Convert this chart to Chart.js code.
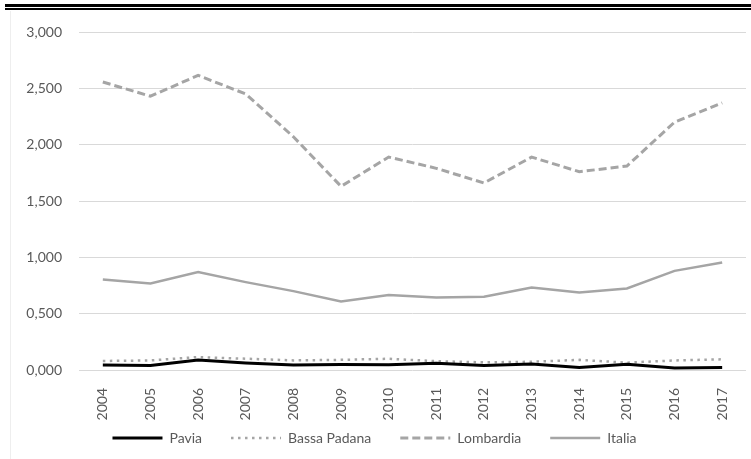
<!DOCTYPE html>
<html>
<head>
<meta charset="utf-8">
<script src="https://cdn.jsdelivr.net/npm/chart.js@4.4.0/dist/chart.umd.min.js"></script>
<style>
  html, body { margin: 0; padding: 0; background: #fff; }
  body { width: 751px; height: 459px; position: relative; overflow: hidden; }
  .rule-thick { position: absolute; left: 5px; right: 0; top: 4px; height: 3px; background: #000; }
  .rule-thin  { position: absolute; left: 5px; right: 0; top: 8px; height: 1.5px; background: #000; }
  .frame { position: absolute; left: 10px; top: 11px; bottom: 0; width: 1px; background: #eeeeee; }
  #wrap { position: absolute; left: 0; top: 12px; width: 751px; height: 447px; }
</style>
</head>
<body>
<div class="rule-thick"></div>
<div class="rule-thin"></div>
<div class="frame"></div>
<div id="wrap"><canvas id="chart"></canvas></div>
<script>
const anni = ['2004','2005','2006','2007','2008','2009','2010','2011','2012','2013','2014','2015','2016','2017'];
const pavia       = [0.044, 0.040, 0.089, 0.062, 0.044, 0.048, 0.047, 0.059, 0.041, 0.053, 0.022, 0.050, 0.018, 0.022];
const bassaPadana = [0.080, 0.085, 0.115, 0.100, 0.085, 0.090, 0.100, 0.078, 0.068, 0.073, 0.090, 0.065, 0.085, 0.095];
const lombardia   = [2.556, 2.430, 2.615, 2.450, 2.070, 1.630, 1.890, 1.790, 1.660, 1.890, 1.760, 1.810, 2.200, 2.370];
const italia      = [0.804, 0.768, 0.869, 0.780, 0.700, 0.609, 0.665, 0.644, 0.650, 0.733, 0.689, 0.724, 0.880, 0.955];

const grigio = '#a5a5a5';
const testo  = '#595959';
const font   = { family: 'Lato', size: 14 };

function serie(label, data, color, width, dash) {
  return {
    label, data,
    borderColor: color, backgroundColor: color,
    borderWidth: width, borderDash: dash,
    pointRadius: 0, pointHoverRadius: 0,
    tension: 0, fill: false
  };
}

// legenda con il tratto della serie (stile e tratteggio presi dal dataset)
function legendaLinee(chart) {
  return chart.data.datasets.map((ds, i) => ({
    text: ds.label,
    datasetIndex: i,
    fontColor: testo,
    fillStyle: ds.borderColor,
    strokeStyle: ds.borderColor,
    lineWidth: ds.borderWidth,
    lineDash: ds.borderDash,
    lineCap: 'butt',
    pointStyle: 'line',
    hidden: false
  }));
}

// le etichette ruotate dell'asse x sforano sotto: allargo solo l'area di clip
const clipAnni = {
  id: 'clipAnni',
  afterLayout(chart) { chart.scales.x.bottom += 30; }
};

new Chart(document.getElementById('chart'), {
  type: 'line',
  data: {
    labels: anni,
    datasets: [
      serie('Pavia', pavia, '#000000', 3, []),
      serie('Bassa Padana', bassaPadana, grigio, 2.5, [2.5, 4.5]),
      serie('Lombardia', lombardia, grigio, 3, [8, 4]),
      serie('Italia', italia, grigio, 2.5, [])
    ]
  },
  plugins: [clipAnni],
  options: {
    responsive: true,
    maintainAspectRatio: false,
    animation: false,
    layout: { padding: { left: 3, right: 5, top: 20, bottom: 4 } },
    plugins: {
      tooltip: { enabled: false },
      legend: {
        position: 'bottom',
        labels: {
          usePointStyle: true, pointStyleWidth: 50, boxWidth: 50, boxHeight: 12,
          color: testo, font, padding: 29,
          generateLabels: legendaLinee
        }
      }
    },
    scales: {
      x: {
        offset: true,
        grid: { display: false },
        border: { display: false },
        ticks: { color: testo, font, minRotation: 90, maxRotation: 90, padding: 10, autoSkip: false },
        afterFit: s => { s.height = 32; }
      },
      y: {
        min: 0, max: 3,
        grid: { color: '#d9d9d9', drawTicks: false },
        border: { display: false },
        ticks: {
          stepSize: 0.5, color: testo, font, padding: 17,
          callback: v => v.toFixed(3).replace('.', ',')
        },
        afterFit: s => { s.width = 76; s.paddingTop = 8; s.paddingBottom = 8; }
      }
    }
  }
});
</script>
</body>
</html>
